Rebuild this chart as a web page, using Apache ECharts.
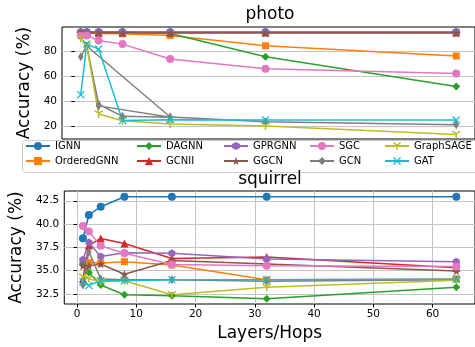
<!DOCTYPE html>
<html>
<head>
<meta charset="utf-8">
<script src="https://cdn.jsdelivr.net/npm/echarts@6/dist/echarts.min.js"></script>
<style>
  html, body { margin: 0; padding: 0; background: #fff; }
  #chart { width: 475px; height: 347px; }
</style>
</head>
<body>
<div id="chart"></div>
<script>
const layers = [1, 2, 4, 8, 16, 32, 64];
// GCN on photo was logged out of order, so its line doubles back
const photoGcnLayers = [1, 2, 4, 8, 16, 4, 2, 16, 32, 64];
const xTicks = [0, 10, 20, 30, 40, 50, 60];
const photoTicks = [20, 40, 60, 80];
const squirrelTicks = [32.5, 35, 37.5, 40, 42.5];
const methods = ["IGNN", "OrderedGNN", "DAGNN", "GCNII", "GPRGNN", "GGCN", "SGC", "GCN", "GraphSAGE", "GAT"];

// photo accuracy (%)
const photoIGNN = [95.5, 95.6, 95.6, 95.6, 95.6, 95.6, 95.6];
const photoOrderedGNN = [94.8, 94.6, 94.5, 94.3, 93.0, 84.7, 76.4];
const photoDAGNN = [95.6, 95.8, 95.8, 95.8, 94.6, 75.8, 51.8];
const photoGCNII = [95.0, 95.2, 95.3, 95.3, 95.4, 95.4, 95.3];
const photoGPRGNN = [95.5, 95.6, 95.7, 95.7, 95.7, 95.7, 95.7];
const photoGGCN = [95.2, 95.3, 95.2, 95.1, 95.0, 95.0, 95.0];
const photoSGC = [92.8, 93.0, 89.0, 86.0, 74.0, 66.1, 62.4];
const photoGCN = [75.8, 84.5, 37.5, 27.8, 27.0, 36.2, 84.5, 27.2, 23.5, 21.0];
const photoGraphSAGE = [90.8, 84.5, 29.6, 24.2, 21.5, 20.0, 13.2];
const photoGAT = [45.2, 86.0, 82.0, 24.5, 25.0, 24.8, 24.8];

// squirrel accuracy (%)
const squirrelIGNN = [38.47, 40.97, 41.86, 42.93, 42.93, 42.93, 42.93];
const squirrelOrderedGNN = [36.0, 35.85, 35.8, 35.95, 35.6, 34.0, 34.1];
const squirrelDAGNN = [35.7, 34.8, 33.45, 32.4, 32.3, 31.97, 33.2];
const squirrelGCNII = [34.1, 37.7, 38.45, 37.9, 36.3, 36.45, 35.3];
const squirrelGPRGNN = [36.15, 38.0, 36.5, 36.9, 36.86, 36.25, 35.93];
const squirrelGGCN = [35.5, 35.5, 35.7, 34.6, 36.07, 35.7, 34.96];
const squirrelSGC = [39.8, 39.2, 37.65, 36.86, 35.64, 35.5, 35.43];
const squirrelGCN = [33.45, 37.0, 34.1, 34.0, 34.0, 33.85, 34.0];
const squirrelGraphSAGE = [34.3, 34.1, 33.8, 33.9, 32.4, 33.2, 33.95];
const squirrelGAT = [33.8, 33.4, 33.9, 33.9, 34.0, 34.0, 34.05];

const photoRows = [photoIGNN, photoOrderedGNN, photoDAGNN, photoGCNII, photoGPRGNN, photoGGCN, photoSGC, photoGCN, photoGraphSAGE, photoGAT];
const squirrelRows = [squirrelIGNN, squirrelOrderedGNN, squirrelDAGNN, squirrelGCNII, squirrelGPRGNN, squirrelGGCN, squirrelSGC, squirrelGCN, squirrelGraphSAGE, squirrelGAT];

const colors = ["#1f77b4", "#ff7f0e", "#2ca02c", "#d62728", "#9467bd", "#8c564b", "#e377c2", "#7f7f7f", "#bcbd22", "#17becf"];

// thick segment as a filled polygon, for stroke-like markers
function seg(x1, y1, x2, y2, w) {
  const len = Math.hypot(x2 - x1, y2 - y1);
  const nx = -(y2 - y1) / len * w, ny = (x2 - x1) / len * w;
  const p = (x, y) => x.toFixed(3) + "," + y.toFixed(3);
  return "M" + p(x1 + nx, y1 + ny) + "L" + p(x2 + nx, y2 + ny) + "L" + p(x2 - nx, y2 - ny) + "L" + p(x1 - nx, y1 - ny) + "Z";
}
function starPath() {
  let d = "";
  for (let i = 0; i < 10; i++) {
    const r = i % 2 ? 0.42 : 1;
    const a = -Math.PI / 2 + i * Math.PI / 5;
    d += (i ? "L" : "M") + (r * Math.cos(a)).toFixed(3) + "," + (r * Math.sin(a)).toFixed(3);
  }
  return "path://" + d + "Z";
}
const hexagon = "path://M0,-1L0.866,-0.5L0.866,0.5L0,1L-0.866,0.5L-0.866,-0.5Z";
const thinDiamond = "path://M0,-1L0.62,0L0,1L-0.62,0Z";
const cross = "path://" + seg(-1, -1, 1, 1, 0.18) + seg(-1, 1, 1, -1, 0.18);
const triDown = "path://" + seg(0, 0, 0, 1, 0.16) + seg(0, 0, -0.866, -0.5, 0.16) + seg(0, 0, 0.866, -0.5, 0.16);

const symbols = ["circle", "rect", "diamond", "triangle", hexagon, starPath(), "circle", thinDiamond, triDown, cross];
const symbolSizes = [8, 7, 8, 8, 8, 9, 8, 9, 9, 8];

const font = "DejaVu Sans";
const chart = echarts.init(document.getElementById("chart"), null, { renderer: "canvas" });

const series = [];
methods.forEach((name, i) => {
  const base = {
    name,
    type: "line",
    symbol: symbols[i],
    symbolSize: symbolSizes[i],
    symbolKeepAspect: true,
    showSymbol: true,
    color: colors[i],
    lineStyle: { width: 1.5, color: colors[i] },
    itemStyle: { color: colors[i] },
    emphasis: { disabled: true },
    animation: false,
  };
  const px = name === "GCN" ? photoGcnLayers : layers;
  series.push({ ...base, xAxisIndex: 0, yAxisIndex: 0, data: photoRows[i].map((v, k) => [px[k], v]) });
  series.push({ ...base, xAxisIndex: 1, yAxisIndex: 1, data: squirrelRows[i].map((v, k) => [layers[k], v]) });
});

const legendLefts = [25, 136, 223, 309, 384];
const legends = legendLefts.map((left, c) => ({
  orient: "vertical",
  left,
  top: 141,
  padding: 0,
  itemWidth: 24,
  itemHeight: 10,
  itemGap: 5,
  selectedMode: false,
  textStyle: { fontFamily: font, fontSize: 10, color: "#000" },
  data: [methods[2 * c], methods[2 * c + 1]],
}));

const yName = { fontFamily: font, fontSize: 17, color: "#000" };
const tickLabel = { fontFamily: font, fontSize: 10.5, color: "#000" };
const gridLine = { show: true, lineStyle: { color: "#c4c4c4", width: 1 } };

chart.setOption({
  backgroundColor: "#fff",
  animation: false,
  grid: [
    { left: 62, right: -3, top: 27, height: 112, show: true, borderColor: "#000", borderWidth: 1 },
    { left: 62, right: -3, top: 191, height: 113, show: true, borderColor: "#000", borderWidth: 1 },
  ],
  xAxis: [
    {
      gridIndex: 0, type: "value", min: -2.15, max: 67.15,
      axisLine: { show: false }, axisTick: { show: false }, axisLabel: { show: false },
      splitLine: { show: false },
    },
    {
      gridIndex: 1, type: "value", min: -2.15, max: 67.15,
      name: "Layers/Hops", nameLocation: "middle", nameGap: 21, nameTextStyle: yName,
      axisLine: { show: false },
      axisTick: { show: true, length: 3.5, customValues: xTicks, lineStyle: { color: "#000" } },
      axisLabel: { ...tickLabel, customValues: xTicks, margin: 5 },
      splitLine: gridLine,
    },
  ],
  yAxis: [
    {
      gridIndex: 0, type: "value", min: 9.5, max: 99.8,
      name: "Accuracy (%)", nameLocation: "middle", nameGap: 26, nameTextStyle: yName,
      axisLine: { show: false },
      axisTick: { show: true, length: 3.5, customValues: photoTicks, lineStyle: { color: "#000" } },
      axisLabel: { ...tickLabel, customValues: photoTicks, margin: 5 },
      splitLine: gridLine,
    },
    {
      gridIndex: 1, type: "value", min: 31.4, max: 43.55,
      name: "Accuracy (%)", nameLocation: "middle", nameGap: 26, nameTextStyle: yName,
      axisLine: { show: false },
      axisTick: { show: true, length: 3.5, customValues: squirrelTicks, lineStyle: { color: "#000" } },
      axisLabel: { ...tickLabel, customValues: squirrelTicks, margin: 5, formatter: (v) => v.toFixed(1) },
      splitLine: gridLine,
    },
  ],
  legend: legends,
  graphic: [
    {
      type: "rect", z: 3, silent: true,
      shape: { x: 22.5, y: 140.5, width: 460, height: 32, r: 3 },
      style: { fill: "rgba(255,255,255,0.85)", stroke: "#cccccc", lineWidth: 1 },
    },
    { type: "text", x: 270, y: 6, z: 5, style: { text: "photo", font: "17px DejaVu Sans", fill: "#000", textAlign: "center", textVerticalAlign: "top" } },
    { type: "text", x: 270, y: 171, z: 5, style: { text: "squirrel", font: "17px DejaVu Sans", fill: "#000", textAlign: "center", textVerticalAlign: "top" } },
  ],
  series,
});
</script>
</body>
</html>
